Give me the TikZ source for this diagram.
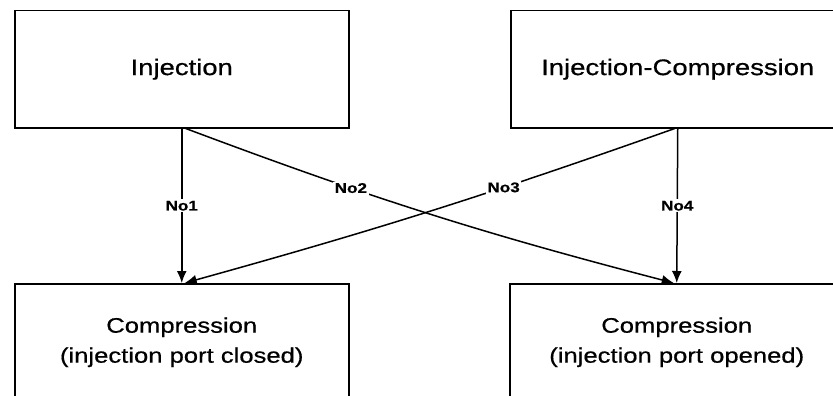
\documentclass[tikz,border=0pt]{standalone}
\usepackage{fontspec}
\setmainfont{Liberation Sans}[FakeStretch=1.22, FakeBold=0.6]
\usetikzlibrary{arrows.meta}
\begin{document}
\begin{tikzpicture}[x=1pt,y=-1pt,
  box/.style={draw, line width=1.5pt, minimum width=334pt, minimum height=117pt,
    anchor=north west, align=center, inner sep=0pt},
  toptext/.style={font=\fontsize{22.5}{27}\selectfont},
  bottext/.style={font=\fontsize{21}{30}\selectfont},
  conn/.style={line width=1.5pt, -{Latex[length=12pt,width=10pt]}},
  lab/.style={fill=white, inner sep=1.5pt, font=\bfseries\fontsize{14}{16}\selectfont}]
\clip (0,0) rectangle (833,396);
\fill[white] (0,0) rectangle (833,396);
\node[box, toptext] (a) at (14,10) {Injection};
\node[box, toptext] (b) at (510,10) {Injection-Compression};
\node[box, bottext] (c) at (14,283) {Compression\\(injection port closed)};
\node[box, bottext] (d) at (509,283) {Compression\\(injection port opened)};
\draw[conn] (a.south) -- node[lab, pos=0.5] {No1} (c.north);
\draw[conn] ([xshift=4pt]a.south) to[bend right=3] node[lab, pos=0.33] {No2} ([xshift=-3pt]d.north);
\draw[conn] ([xshift=-3pt]b.south) to[bend left=2] node[lab, pos=0.34] {No3} ([xshift=3pt]c.north);
\draw[conn] (b.south) -- node[lab, pos=0.5] {No4} (d.north);
\end{tikzpicture}
\end{document}
